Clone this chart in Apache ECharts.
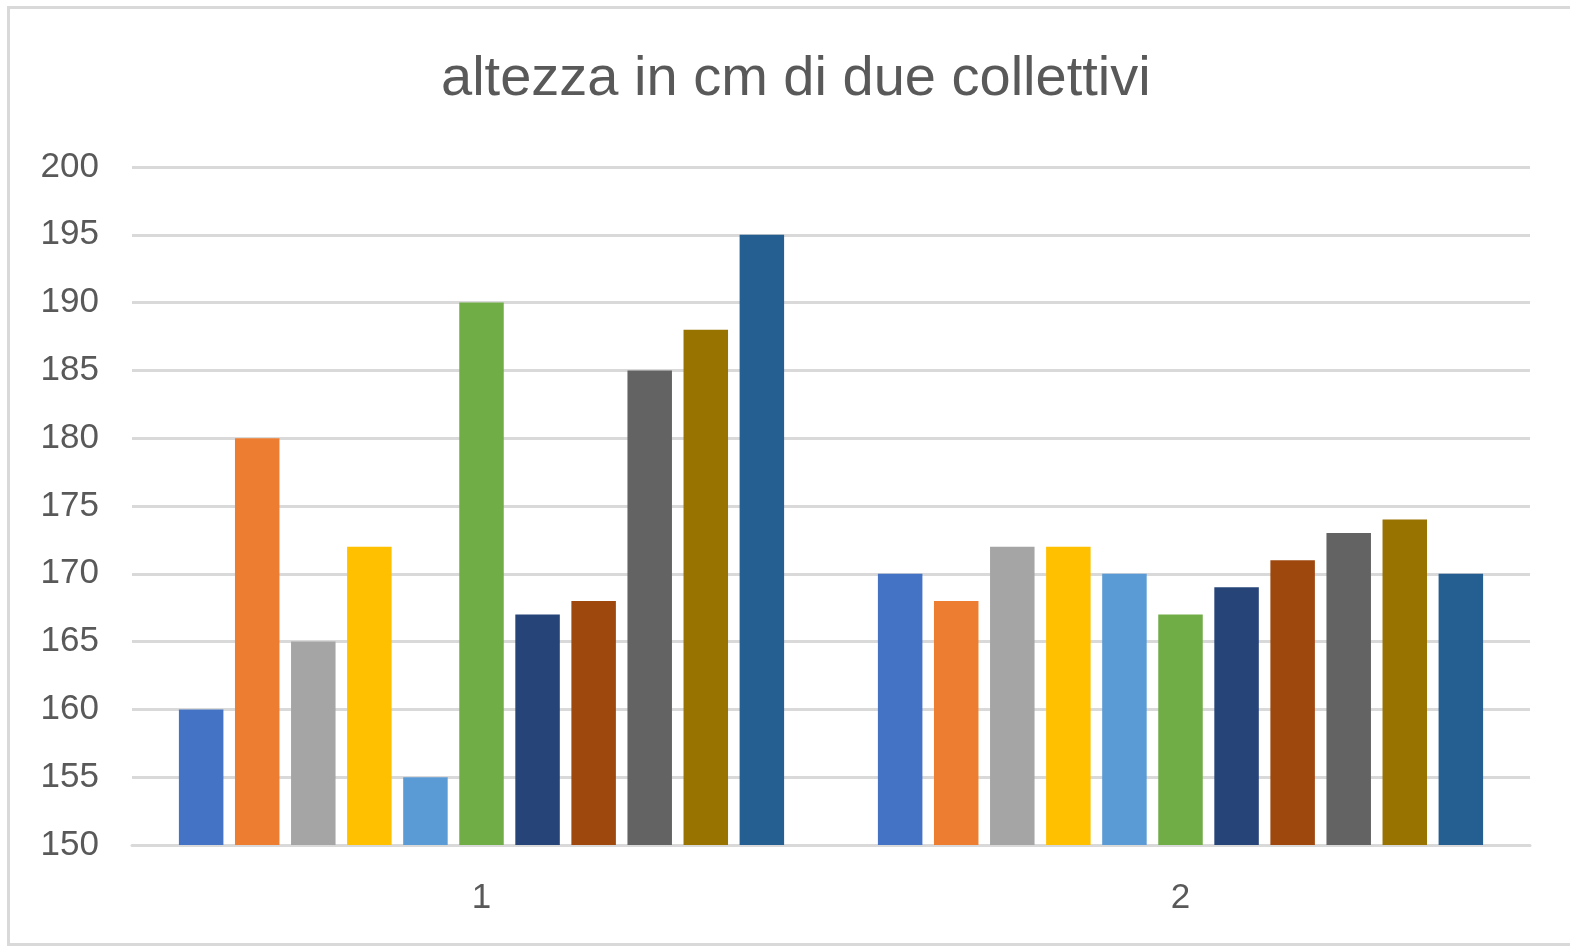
<!DOCTYPE html>
<html>
<head>
<meta charset="utf-8">
<script src="https://cdn.jsdelivr.net/npm/echarts@6/dist/echarts.min.js"></script>
<style>
html,body{margin:0;padding:0;background:#fff;}
#chart{width:1570px;height:947px;}
</style>
</head>
<body>
<div id="chart"></div>
<script>
const categories = ['1', '2'];
const seriesNames = ['S1','S2','S3','S4','S5','S6','S7','S8','S9','S10','S11'];
const group1 = [160, 180, 165, 172, 155, 190, 167, 168, 185, 188, 195];
const group2 = [170, 168, 172, 172, 170, 167, 169, 171, 173, 174, 170];
const colors = ['#4472C4','#ED7D31','#A5A5A5','#FFC000','#5B9BD5','#70AD47','#264478','#9E480E','#636363','#997300','#255E91'];
const yTicks = [150, 155, 160, 165, 170, 175, 180, 185, 190, 195, 200];

const chart = echarts.init(document.getElementById('chart'));
const font = '"Liberation Sans", Arial, sans-serif';
chart.setOption({
  animation: false,
  backgroundColor: '#fff',
  title: {
    text: 'altezza in cm di due collettivi',
    left: 436,
    top: 47,
    textStyle: { fontFamily: font, fontSize: 56, fontWeight: 'normal', color: '#595959' }
  },
  graphic: [{
    type: 'rect',
    shape: { x: 8.5, y: 7.5, width: 1575, height: 937 },
    style: { fill: 'none', stroke: '#d9d9d9', lineWidth: 3 },
    silent: true
  }],
  grid: { left: 132, right: 40, top: 167, bottom: 102 },
  xAxis: {
    type: 'category',
    data: categories,
    axisLine: { show: true, lineStyle: { color: '#d9d9d9', width: 3 } },
    axisTick: { show: false },
    axisLabel: { fontFamily: font, fontSize: 35, color: '#595959', margin: 36 }
  },
  yAxis: {
    type: 'value',
    min: yTicks[0],
    max: yTicks[yTicks.length - 1],
    interval: 5,
    axisLine: { show: false },
    axisTick: { show: false },
    splitLine: { lineStyle: { color: '#d9d9d9', width: 3 } },
    axisLabel: { fontFamily: font, fontSize: 35, color: '#595959', margin: 33 }
  },
  series: seriesNames.map((name, i) => ({
    name: name,
    type: 'bar',
    data: [group1[i], group2[i]],
    barWidth: 44.5,
    barGap: '26%',
    itemStyle: { color: colors[i] }
  }))
});
</script>
</body>
</html>
